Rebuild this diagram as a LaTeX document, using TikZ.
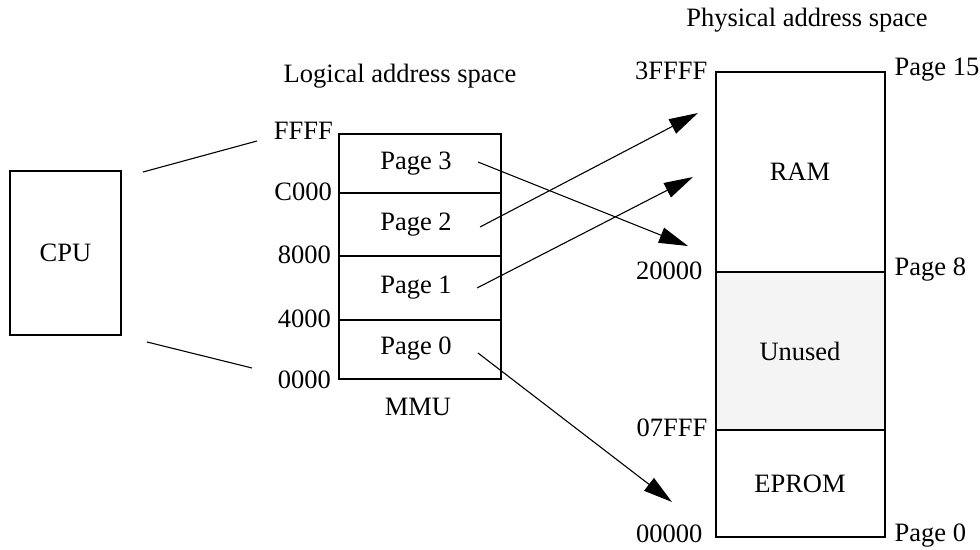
\documentclass[tikz,border=0pt]{standalone}
\usepackage{fontspec}
\setmainfont{Liberation Serif}
\usetikzlibrary{arrows.meta,calc}
\definecolor{unusedgray}{RGB}{244,244,244}
\begin{document}
\begin{tikzpicture}[x=1pt,y=-1pt,
  every node/.style={font=\fontsize{26.5}{30}\selectfont, inner sep=0pt},
  boxstyle/.style={draw, line width=2pt},
  conn/.style={line width=1.1pt},
  maparrow/.style={line width=1.1pt, -{Triangle[length=29pt,width=16pt]}},
  lbl/.style={anchor=east},
  rlbl/.style={anchor=west}]
\useasboundingbox (0,0) rectangle (980,549);

% CPU
\node[boxstyle, minimum width=111pt, minimum height=164pt] (cpu) at (65.5,253) {CPU};

% MMU pages
\node[boxstyle, minimum width=162pt, minimum height=59pt] (p3) at (420,163.5) {};
\node[boxstyle, minimum width=162pt, minimum height=63pt] (p2) at (420,224.5) {};
\node[boxstyle, minimum width=162pt, minimum height=64pt] (p1) at (420,288) {};
\node[boxstyle, minimum width=162pt, minimum height=59pt] (p0) at (420,349.5) {};
\node (t3) at ($(p3.center)+(-4,0)$) {Page 3};
\node (t2) at ($(p2.center)+(-4,0)$) {Page 2};
\node (t1) at ($(p1.center)+(-4,0)$) {Page 1};
\node (t0) at ($(p0.center)+(-4,-1)$) {Page 0};

\node (logtitle) at (400,76) {Logical address space};
\node (mmu) at (418,407) {MMU};

% logical address labels
\node[lbl] (lffff) at ($(p3.north west)+(-5,-2)$) {FFFF};
\node[lbl] (lc000) at ($(p2.north west)+(-6,0)$) {C000};
\node[lbl] (l8000) at ($(p1.north west)+(-7,0)$) {8000};
\node[lbl] (l4000) at ($(p0.north west)+(-7,0)$) {4000};
\node[lbl] (l0000) at ($(p0.south west)+(-7,0)$) {0000};

% physical memory
\node[boxstyle, minimum width=169pt, minimum height=200pt] (ram) at (800,172) {RAM};
\node[boxstyle, fill=unusedgray, minimum width=169pt, minimum height=158pt] (unused) at (800,351) {Unused};
\node[boxstyle, minimum width=169pt, minimum height=107pt] (eprom) at (800,483.5) {EPROM};

\node (phystitle) at (807,20) {Physical address space};

\node[lbl] (a3ffff) at ($(ram.north west)+(-7,0)$) {3FFFF};
\node[lbl] (a20000) at ($(unused.north west)+(-12,0)$) {20000};
\node[lbl] (a07fff) at ($(eprom.north west)+(-7,-1)$) {07FFF};
\node[lbl] (a00000) at ($(eprom.south west)+(-12,-4)$) {00000};

\node[rlbl] (pg15) at ($(ram.north east)+(9,-1)$) {Page 15};
\node[rlbl] (pg8) at ($(unused.north east)+(9,-1)$) {Page 8};
\node[rlbl] (pg0) at ($(eprom.south east)+(9,-2)$) {Page 0};

% CPU connector lines
\coordinate (c1s) at (143,172);
\coordinate (c1e) at (257,141);
\coordinate (c2s) at (147,342);
\coordinate (c2e) at (252,368);
\draw[conn] (c1s) -- (c1e);
\draw[conn] (c2s) -- (c2e);

% mapping arrows
\coordinate (s3) at (478,162);
\coordinate (e3) at (688,246);
\coordinate (s2) at (480,227);
\coordinate (e2) at (698,113);
\coordinate (s1) at (477,288);
\coordinate (e1) at (693,177);
\coordinate (s0) at (478,353);
\coordinate (e0) at (672,502);
\draw[maparrow] (s3) -- (e3);
\draw[maparrow] (s2) -- (e2);
\draw[maparrow] (s1) -- (e1);
\draw[maparrow] (s0) -- (e0);
\end{tikzpicture}
\end{document}
